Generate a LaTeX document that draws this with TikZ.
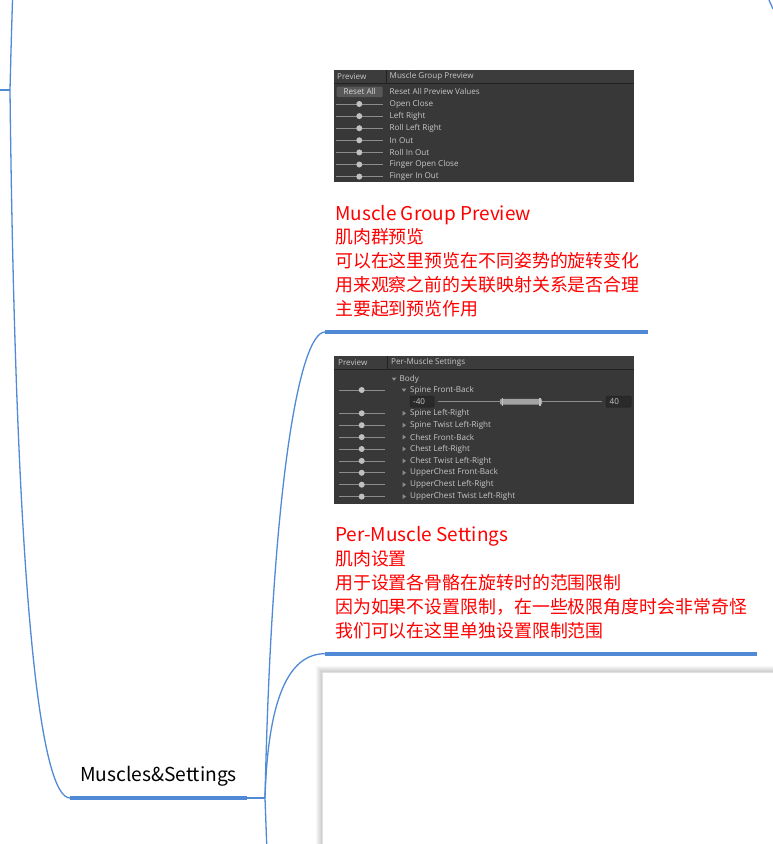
\documentclass[tikz,border=0pt]{standalone}
\usepackage{fontspec}
\newfontfamily\cjk{Noto Sans CJK SC}
\newfontfamily\ui{Open Sans}
\definecolor{mmblue}{RGB}{80,138,215}
\definecolor{panelbg}{RGB}{56,56,56}
\definecolor{headbg}{RGB}{60,60,60}
\definecolor{uiline}{RGB}{33,33,33}
\definecolor{uitxt}{RGB}{200,200,200}
\definecolor{track}{RGB}{140,140,140}
\definecolor{knob}{RGB}{192,192,192}
\definecolor{btn}{RGB}{88,88,88}
\definecolor{field}{RGB}{42,42,42}
\begin{document}
\begin{tikzpicture}[x=1pt,y=-1pt,
  branch/.style={draw=mmblue, line width=1.3pt},
  bar/.style={draw=mmblue, line width=4pt},
  redtitle/.style={anchor=base west, inner sep=0, text=red, font=\cjk\fontsize{19}{21}\selectfont},
  redbody/.style={anchor=base west, inner sep=0, text=red, font=\cjk\fontsize{17.9}{20}\selectfont},
  topic/.style={anchor=base, inner sep=0, text=black, font=\cjk\fontsize{19.2}{21}\selectfont},
  uitext/.style={anchor=west, inner sep=0, text=uitxt, font=\ui\fontsize{8.1}{9}\selectfont},
  trk/.style={draw=track, line width=0.7pt},
  knobdot/.style={fill=knob},
  tri/.style={fill=track},
  fieldbox/.style={fill=field, draw=uiline, line width=0.5pt}
]
\useasboundingbox (0,0) rectangle (773,844);
\fill[white] (0,0) rectangle (773,844);

% ---------- shadowed empty box at bottom ----------
\foreach \i in {6,5,4,3,2,1} {
  \fill[black, opacity=0.03] (322-\i,672-\i) rectangle (780,850);
}
\node[draw=black!12, fill=white, line width=0.4pt, anchor=north west, minimum width=470pt, minimum height=190pt, inner sep=0] (emptybox) at (322,672) {};

% ---------- connectors ----------
\coordinate (Pin) at (0,90);
\coordinate (P) at (10,90);
\coordinate (Up) at (12.5,0);
\coordinate (msL) at (70,798);
\coordinate (msR) at (247,798);
\coordinate (msE) at (265,798);
\coordinate (b1L) at (325,332);
\coordinate (b1R) at (648,332);
\coordinate (b2L) at (325,653.7);
\coordinate (b2R) at (757,653.7);
\coordinate (down) at (266.7,844);
\coordinate (tr1) at (769,0);
\coordinate (tr2) at (773,9);

\draw[branch] (Pin) -- (P);
\draw[branch] (P) .. controls (11,50) .. (Up);
\draw[branch] (P) .. controls (16,620) and (42,798) .. (msL);
\draw[bar] (msL) -- (msR);
\draw[branch] (msR) -- (msE);
\draw[branch] (msE) .. controls (272,480) and (300,332) .. (b1L);
\draw[bar] (b1L) -- (b1R);
\draw[branch] (msE) .. controls (268,700) and (288,653.7) .. (b2L);
\draw[bar] (b2L) -- (b2R);
\draw[branch] (msE) -- (down);
\draw[branch] (tr1) -- (tr2);

\node[topic] (ms) at (158.5,781.7) {Muscles\&Settings};

% ---------- panel 1 : Muscle Group Preview ----------
\node[fill=panelbg, anchor=north west, minimum width=300pt, minimum height=112pt, inner sep=0] (panel1) at (334,70) {};
\fill[headbg] (334,70) rectangle (634,83.3);
\draw[uiline, line width=0.7pt] (334,83.3) -- (634,83.3);
\draw[uiline, line width=0.7pt] (386,70) -- (386,83.3);
\node[uitext] (p1h1) at (337,76.7) {Preview};
\node[uitext] (p1h2) at (389.5,76.7) {Muscle Group Preview};
\fill[btn, rounded corners=1pt] (336.7,86.7) rectangle (382.7,97);
\node[uitext, anchor=center, text=white!85!black] (reset) at (359.7,91.9) {Reset All};
\node[uitext] (resetlbl) at (389.5,91.7) {Reset All Preview Values};
\foreach \lbl [count=\k from 0] in {Open Close, Left Right, Roll Left Right, In Out, Roll In Out, Finger Open Close, Finger In Out} {
  \pgfmathsetmacro{\yy}{104+12.1*\k}
  \draw[trk] (336,\yy) -- (383,\yy);
  \fill[knobdot] (359.3,\yy) circle (3pt);
  \node[uitext] at (389.5,\yy) {\lbl};
}

% ---------- panel 2 : Per-Muscle Settings ----------
\node[fill=panelbg, anchor=north west, minimum width=300pt, minimum height=148pt, inner sep=0] (panel2) at (334,356) {};
\fill[headbg] (334,356) rectangle (634,369);
\draw[uiline, line width=0.7pt] (334,369) -- (634,369);
\draw[uiline, line width=0.7pt] (387,356) -- (387,369);
\node[uitext] (p2h1) at (338,362.7) {Preview};
\node[uitext] (p2h2) at (391,362.7) {Per-Muscle Settings};
% Body
\fill[tri] (391.5,377.5) -- (396.5,377.5) -- (394,380.8) -- cycle;
\node[uitext] (body) at (399.5,379) {Body};
% Spine Front-Back (expanded)
\draw[trk] (339,390) -- (385,390);
\fill[knobdot] (361.7,390) circle (3pt);
\fill[tri] (401.5,388.5) -- (406.5,388.5) -- (404,391.8) -- cycle;
\node[uitext] (sfb) at (410,390) {Spine Front-Back};
\draw[fieldbox, rounded corners=1pt] (410,396) rectangle (434,407);
\node[uitext] (minv) at (413,401.7) {-40};
\draw[trk] (438,401.7) -- (602,401.7);
\fill[knob!85!black, rounded corners=1pt] (500,398.8) rectangle (542,404.6);
\fill[knob] (501.5,397.8) rectangle (503,405.6);
\fill[knob] (539,397.8) rectangle (540.5,405.6);
\draw[fieldbox, rounded corners=1pt] (606,396) rectangle (631,407);
\node[uitext] (maxv) at (609.5,401.7) {40};
\foreach \lbl [count=\k from 0] in {Spine Left-Right, Spine Twist Left-Right, Chest Front-Back, Chest Left-Right, Chest Twist Left-Right, UpperChest Front-Back, UpperChest Left-Right, UpperChest Twist Left-Right} {
  \pgfmathsetmacro{\yy}{413.3+11.9*\k}
  \draw[trk] (339,\yy) -- (385,\yy);
  \fill[knobdot] (361.7,\yy) circle (3pt);
  \fill[tri] (402.5,\yy-2.5) -- (402.5,\yy+2.5) -- (406,\yy) -- cycle;
  \node[uitext] at (410,\yy) {\lbl};
}

% ---------- red notes ----------
\node[redtitle] (t1) at (335,220) {Muscle Group Preview};
\node[redbody] (t1a) at (335,243.5) {肌肉群预览};
\node[redbody] (t1b) at (335,267.5) {可以在这里预览在不同姿势的旋转变化};
\node[redbody] (t1c) at (335,291.5) {用来观察之前的关联映射关系是否合理};
\node[redbody] (t1d) at (335,315.5) {主要起到预览作用};

\node[redtitle] (t2) at (335,541.7) {Per-Muscle Settings};
\node[redbody] (t2a) at (335,565) {肌肉设置};
\node[redbody] (t2b) at (335,589) {用于设置各骨骼在旋转时的范围限制};
\node[redbody] (t2c) at (335,613) {因为如果不设置限制，在一些极限角度时会非常奇怪};
\node[redbody] (t2d) at (335,637) {我们可以在这里单独设置限制范围};
\end{tikzpicture}
\end{document}
